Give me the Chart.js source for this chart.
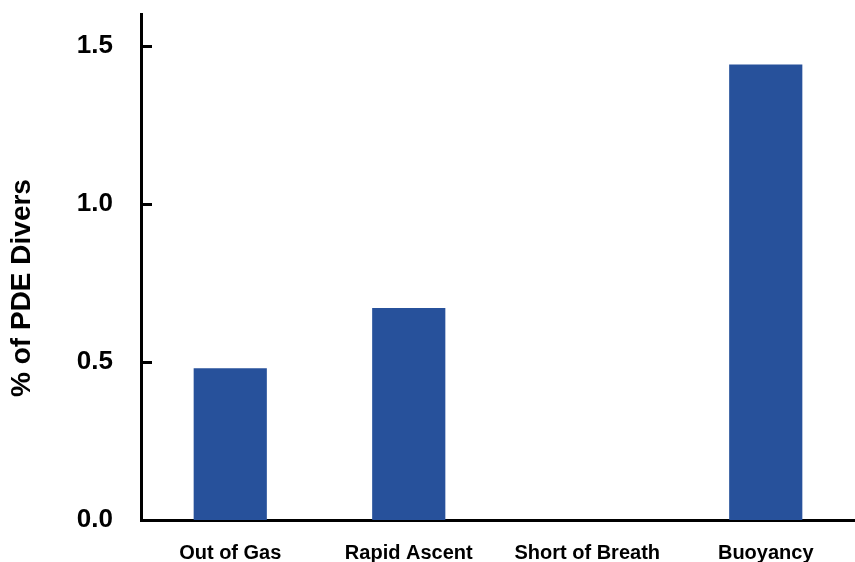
<!DOCTYPE html>
<html>
<head>
<meta charset="utf-8">
<script src="https://cdn.jsdelivr.net/npm/chart.js@4"></script>
<style>
  html, body { margin: 0; padding: 0; background: #fff; }
  #wrap { width: 855px; height: 562px; position: relative; }
</style>
</head>
<body>
<div id="wrap"><canvas id="chart"></canvas></div>
<script>
// Problem categories and the share of PDE divers reporting each
const categories = ['Out of Gas', 'Rapid Ascent', 'Short of Breath', 'Buoyancy'];
const percentDivers = [0.48, 0.67, 0, 1.44];
const yTickValues = [0, 0.5, 1.0, 1.5];
const yTitle = '% of PDE Divers';

const FONT = '"Liberation Sans", Arial, Helvetica, sans-serif';
const BAR_BLUE = '#27519b';

// Short tick marks pointing into the plot from the left axis, plus the rotated axis title
const axisExtras = {
  id: 'axisExtras',
  afterDraw(chart) {
    const ctx = chart.ctx;
    const y = chart.scales.y;
    const left = chart.chartArea.left;
    ctx.save();
    ctx.strokeStyle = '#000';
    ctx.lineWidth = 3;
    y.ticks.forEach(t => {
      const py = Math.round(y.getPixelForValue(t.value)) + 0.5;
      ctx.beginPath();
      ctx.moveTo(left, py);
      ctx.lineTo(left + 11, py);
      ctx.stroke();
    });
    ctx.translate(22, 288);
    ctx.rotate(-Math.PI / 2);
    ctx.fillStyle = '#000';
    ctx.font = 'bold 28px ' + FONT;
    ctx.textAlign = 'center';
    ctx.textBaseline = 'middle';
    ctx.fillText(yTitle, 0, 0);
    ctx.restore();
  }
};

new Chart(document.getElementById('chart'), {
  type: 'bar',
  data: {
    labels: categories,
    datasets: [{
      data: percentDivers,
      backgroundColor: BAR_BLUE,
      borderWidth: 0,
      barPercentage: 0.41,
      categoryPercentage: 1.0
    }]
  },
  options: {
    responsive: true,
    maintainAspectRatio: false,
    animation: false,
    layout: { padding: { top: 14, right: 0, bottom: 0, left: 0 } },
    plugins: {
      legend: { display: false },
      tooltip: { enabled: false }
    },
    scales: {
      x: {
        grid: { display: false, drawTicks: false },
        border: { display: true, color: '#000', width: 3 },
        ticks: {
          color: '#000',
          font: { family: FONT, size: 20, weight: 'bold' },
          padding: 21,
          maxRotation: 0,
          autoSkip: false
        },
        afterFit(scale) {
          scale.height = 42;
          scale.paddingLeft = 0;
          scale.paddingRight = 0;
        }
      },
      y: {
        min: 0,
        max: 1.6,
        grid: { display: false, drawTicks: false },
        border: { display: true, color: '#000', width: 3 },
        afterBuildTicks(scale) {
          scale.ticks = yTickValues.map(v => ({ value: v }));
        },
        ticks: {
          color: '#000',
          font: { family: FONT, size: 26, weight: 'bold' },
          padding: 28,
          callback: v => Number(v).toFixed(1)
        },
        afterFit(scale) {
          scale.width = 141;
          scale.paddingTop = 0;
          scale.paddingBottom = 0;
        }
      }
    }
  },
  plugins: [axisExtras]
});
</script>
</body>
</html>
